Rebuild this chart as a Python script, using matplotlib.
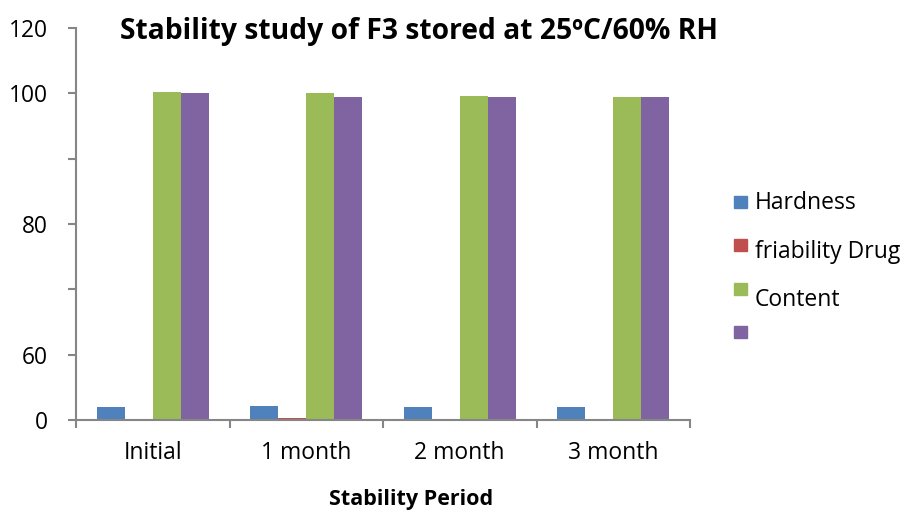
import matplotlib
matplotlib.use("Agg")
import matplotlib.pyplot as plt
from matplotlib.patches import Rectangle
import numpy as np

# Data
periods = ["Initial", "1 month", "2 month", "3 month"]
series_labels = ["Hardness", "friability Drug", "Content", ""]
hardness = [4.0, 4.3, 4.0, 4.0]
friability = [0.2, 0.5, 0.2, 0.2]
drug_content = [100.4, 100.1, 99.2, 98.9]
assay = [100.1, 98.9, 98.9, 98.9]
series_values = [hardness, friability, drug_content, assay]
colors = ["#4F81BD", "#C0504D", "#9BBB59", "#8064A2"]

ytick_values = [0, 20, 40, 60, 80, 100, 120]
ytick_labels = ["0", "60", "", "80", "", "100", "120"]

plt.rcParams["font.family"] = ["Open Sans", "DejaVu Sans"]

fig = plt.figure(figsize=(9.04, 5.13), dpi=100)
W, H = 904, 513
ax = fig.add_axes([76 / W, 1 - 420 / H, (690 - 76) / W, (420 - 28) / H])

x = np.arange(len(periods))
n = len(series_values)
bw = 1 / 5.5
for i, (vals, c) in enumerate(zip(series_values, colors)):
    ax.bar(x + (i - (n - 1) / 2) * bw, vals, width=bw, color=c, linewidth=0)

ax.set_xlim(-0.5, len(periods) - 0.5)
ax.set_ylim(0, 120)

axis_color = "#868686"
for s in ["top", "right"]:
    ax.spines[s].set_visible(False)
for s in ["left", "bottom"]:
    ax.spines[s].set_color(axis_color)
    ax.spines[s].set_linewidth(1.5)

ax.set_yticks(ytick_values)
ax.set_yticklabels(ytick_labels, fontsize=16.4)
ax.tick_params(axis="y", length=6, width=1.5, color=axis_color, pad=14)

ax.set_xticks(x)
ax.set_xticklabels(periods, fontsize=16.5)
ax.set_xticks(np.arange(-0.5, len(periods), 1.0), minor=True)
ax.tick_params(axis="x", which="major", length=0, pad=15)
ax.tick_params(axis="x", which="minor", length=6, width=1.5, color=axis_color)

fig.text(419 / W, 1 - 32 / H, "Stability study of F3 stored at 25ºC/60% RH",
         ha="center", va="center", fontsize=20.3, fontweight="bold")
fig.text(411 / W, 1 - 500 / H, "Stability Period",
         ha="center", va="center", fontsize=15.5, fontweight="bold")

# Legend drawn as a column of swatches with captions
swatch_y = [202, 245, 289, 332]
text_y = [203, 252, 300, None]
for c, sy, ty, lab in zip(colors, swatch_y, text_y, series_labels):
    fig.patches.append(Rectangle((734 / W, 1 - (sy + 6) / H), 13 / W, 12 / H,
                                 transform=fig.transFigure, color=c))
    if ty is not None and lab:
        fig.text(755 / W, 1 - ty / H, lab, ha="left", va="center", fontsize=16.5)

fig.savefig("out.png", dpi=100)
